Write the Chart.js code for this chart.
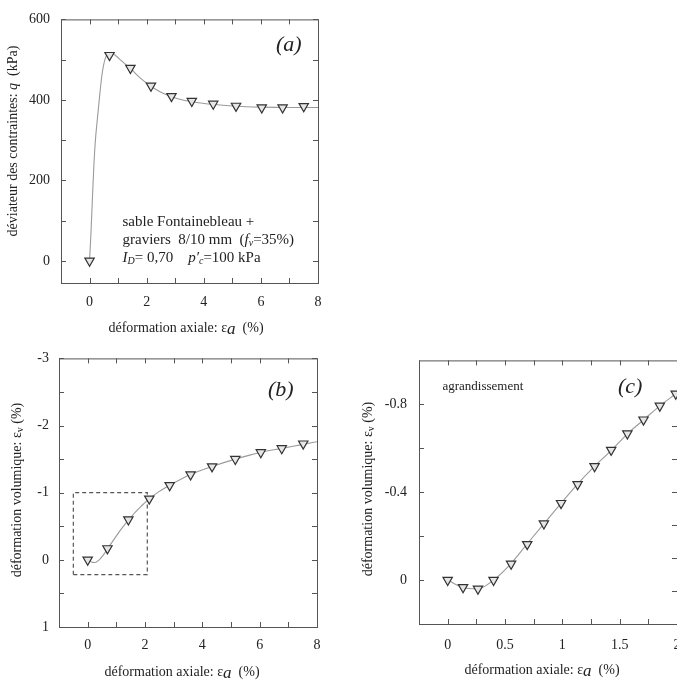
<!DOCTYPE html>
<html><head><meta charset="utf-8">
<script src="https://cdn.jsdelivr.net/npm/chart.js@4/dist/chart.umd.min.js"></script>
<style>
html,body{margin:0;padding:0;background:#fff;overflow:hidden;width:677px;height:688px;}
.box{position:absolute;}
</style></head><body>
<div class="box" style="left:0;top:0;"><canvas id="ca" width="340" height="340"></canvas></div>
<div class="box" style="left:0;top:340px;"><canvas id="cb" width="340" height="348"></canvas></div>
<div class="box" style="left:340px;top:340px;width:360px;"><canvas id="cc" width="360" height="348"></canvas></div>
<script>
// ---------- data: panel (a) deviator stress ----------
const qMarkX = [0, 0.70, 1.43, 2.15, 2.87, 3.58, 4.33, 5.13, 6.03, 6.76, 7.50];
const qMarkY = [0, 511, 479, 435, 409, 397, 390, 385, 381, 381, 384];
const qCurveX = [0, 0.05, 0.10, 0.15, 0.20, 0.27, 0.36, 0.44, 0.56, 0.73, 0.90, 1.10, 1.43, 1.80, 2.15, 2.50, 2.87, 3.30, 3.80, 4.30, 5.00, 6.00, 7.00, 8.00];
const qCurveY = [0, 70, 155, 235, 295, 350, 415, 465, 505, 517, 511, 498, 478, 453, 434, 419, 408, 399, 393, 389, 385, 382, 381, 381];

// ---------- data: panel (b) volumetric strain ----------
const vMarkX = [0, 0.69, 1.42, 2.15, 2.86, 3.59, 4.34, 5.15, 6.04, 6.77, 7.52];
const vMarkY = [0, -0.17, -0.60, -0.91, -1.11, -1.27, -1.39, -1.50, -1.60, -1.66, -1.73];
const vCurveX = [0, 0.13, 0.26, 0.40, 0.55, 0.69, 0.84, 0.99, 1.13, 1.28, 1.43, 1.57, 1.71, 1.85, 1.99, 2.15, 2.50, 2.86, 3.59, 4.34, 5.15, 6.04, 6.77, 7.52, 8.00];
const vCurveY = [0, 0.033, 0.040, 0.0, -0.074, -0.163, -0.257, -0.350, -0.436, -0.518, -0.592, -0.667, -0.730, -0.793, -0.848, -0.91, -1.02, -1.11, -1.27, -1.39, -1.50, -1.60, -1.66, -1.72, -1.76];
const zoomBoxX = [-0.5, 2.08, 2.08, -0.5, -0.5];
const zoomBoxY = [0.22, 0.22, -1.0, -1.0, 0.22];

// ---------- data: panel (c) enlargement ----------
const cMarkX = [0, 0.134, 0.264, 0.40, 0.553, 0.694, 0.839, 0.989, 1.133, 1.281, 1.426, 1.567, 1.708, 1.85, 1.989];
const cMarkY = [0, 0.033, 0.040, 0.0, -0.074, -0.163, -0.257, -0.350, -0.436, -0.518, -0.592, -0.667, -0.730, -0.793, -0.848];

// ---------- ticks ----------
const abXTicks = [-1, 0, 1, 2, 3, 4, 5, 6, 7, 8];
const abXLabels = [0, 2, 4, 6, 8];
const aYTicks = [0, 100, 200, 300, 400, 500, 600];
const aYLabels = [0, 200, 400, 600];
const bYTicks = [-3, -2.5, -2, -1.5, -1, -0.5, 0, 0.5, 1];
const bYLabels = [-3, -2, -1, 0, 1];
const cXTicks = [-0.25, 0, 0.25, 0.5, 0.75, 1, 1.25, 1.5, 1.75, 2];
const cXLabels = [0, 0.5, 1, 1.5, 2];
const cYTicks = [-0.8, -0.6, -0.4, -0.2, 0];
const cYRightTicks = [-0.7, -0.55, -0.4, -0.25, -0.1, 0.05];
const cYLabels = [-0.8, -0.4, 0];

// ---------- texts ----------
const xTitle = [{t:'déformation axiale: '}, {t:'ε'}, {t:'a', i:true, sz:17, dy:2}, {t:'  (%)'}];
const qTitle = [{t:'déviateur des contraintes: '}, {t:'q', i:true}, {t:'  (kPa)'}];
const vTitle = [{t:'déformation volumique: '}, {t:'ε'}, {t:'v', sz:10, dy:3}, {t:' (%)'}];
const noteA = [
  [{t:'sable Fontainebleau +'}],
  [{t:'graviers  8/10 mm  ('}, {t:'f', i:true}, {t:'v', i:true, sz:10, dy:3}, {t:'=35%)'}],
  [{t:'I', i:true}, {t:'D', i:true, sz:10, dy:3}, {t:'= 0,70    '}, {t:'p', i:true}, {t:'′', i:true}, {t:'c', i:true, sz:10, dy:3}, {t:'=100 kPa'}]
];

const FONT = '"Liberation Serif", "Times New Roman", serif';
const INK = '#222';

function fontOf(s, base){ return (s.i ? 'italic ' : '') + (s.sz || base) + 'px ' + FONT; }
function drawRich(ctx, segs, x, y, align, base){
  const w = segs.map(s => { ctx.font = fontOf(s, base); return ctx.measureText(s.t).width; });
  const total = w.reduce((a,b)=>a+b, 0);
  let cx = align === 'center' ? x - total/2 : (align === 'right' ? x - total : x);
  ctx.textAlign = 'left';
  ctx.textBaseline = 'middle';
  segs.forEach((s,k) => { ctx.font = fontOf(s, base); ctx.fillText(s.t, cx, y + (s.dy || 0)); cx += w[k]; });
}

const deco = {
  id: 'deco',
  afterDatasetsDraw(chart, args, o){
    const ctx = chart.ctx, a = chart.chartArea;
    const xs = chart.scales.x, ys = chart.scales.y;
    ctx.save();
    ctx.strokeStyle = '#555';
    ctx.lineWidth = 1;
    ctx.strokeRect(a.left + 0.5, a.top + 0.5, a.right - a.left, a.bottom - a.top);
    const L = 5;
    ctx.beginPath();
    o.xTicks.forEach(v => {
      const px = Math.round(xs.getPixelForValue(v)) + 0.5;
      ctx.moveTo(px, a.bottom); ctx.lineTo(px, a.bottom - L);
      ctx.moveTo(px, a.top); ctx.lineTo(px, a.top + L);
    });
    o.yTicks.forEach(v => {
      const py = Math.round(ys.getPixelForValue(v)) + 0.5;
      ctx.moveTo(a.left, py); ctx.lineTo(a.left + L, py);
    });
    (o.rTicks || o.yTicks).forEach(v => {
      const py = Math.round(ys.getPixelForValue(v)) + 0.5;
      ctx.moveTo(a.right, py); ctx.lineTo(a.right - L, py);
    });
    ctx.stroke();
    ctx.fillStyle = INK;
    drawRich(ctx, o.xTitle, o.xTitlePos[0], o.xTitlePos[1], 'center', 14);
    ctx.save();
    ctx.translate(o.yTitlePos[0], o.yTitlePos[1]);
    ctx.rotate(-Math.PI/2);
    drawRich(ctx, o.yTitle, 0, 0, 'center', 14);
    ctx.restore();
    (o.texts || []).forEach(t => drawRich(ctx, t.segs, t.x, t.y, 'left', t.size));
    ctx.restore();
  }
};

function curveDs(xs, ys){
  return { type:'line', data: xs.map((x,i)=>({x, y: ys[i]})), borderColor:'#9a9a9a', borderWidth:1.1,
    pointRadius:0, cubicInterpolationMode:'monotone', fill:false, order:2 };
}
function markDs(xs, ys){
  return { type:'line', data: xs.map((x,i)=>({x, y: ys[i]})), showLine:false, pointStyle:'triangle',
    rotation:180, pointRadius:5.4, pointBorderWidth:1.2, pointBorderColor:'#333', pointBackgroundColor:'#e6e6e6', order:1 };
}
function axis(min, max, labels, pad, fit, isX, reverse){
  return {
    type:'linear', min, max, reverse: !!reverse,
    grid:{display:false, drawTicks:false}, border:{display:false},
    ticks:{ padding: pad, autoSkip:false, maxRotation:0, color: INK, font:{family: FONT, size:14},
      callback: v => String(v) },
    afterBuildTicks: s => { s.ticks = labels.map(v => ({value: v})); },
    afterFit: s => { if (isX) s.height = fit; else s.width = fit; }
  };
}
function make(id, datasets, scales, padding, deco_opts){
  new Chart(document.getElementById(id), {
    type:'line',
    data:{ datasets },
    options:{
      responsive:false, animation:false, events:[],
      layout:{ padding },
      scales,
      plugins:{ legend:{display:false}, tooltip:{enabled:false}, deco: deco_opts }
    },
    plugins:[deco]
  });
}

// Panel (a)
make('ca', [markDs(qMarkX, qMarkY), curveDs(qCurveX, qCurveY)],
  { x: axis(-1, 8, abXLabels, 11, 57, true), y: axis(-55, 600, aYLabels, 11, 61, false) },
  { left:0, top:13, right:22, bottom:0 },
  { xTicks: abXTicks, yTicks: aYTicks, xTitle, xTitlePos:[186, 328], yTitle: qTitle, yTitlePos:[13.5, 141],
    texts: [
      {segs:[{t:'(a)', i:true}], x:276, y:45, size:22},
      {segs:noteA[0], x:122.5, y:222, size:15},
      {segs:noteA[1], x:122.5, y:240, size:15},
      {segs:noteA[2], x:122.5, y:258, size:15}
    ] });

// Panel (b)
const boxDs = { type:'line', data: zoomBoxX.map((x,i)=>({x, y: zoomBoxY[i]})), borderColor:'#555', borderWidth:1.2,
  borderDash:[4,3], pointRadius:0, tension:0, fill:false, order:3 };
make('cb', [markDs(vMarkX, vMarkY), curveDs(vCurveX, vCurveY), boxDs],
  { x: axis(-1, 8, abXLabels, 10, 61, true), y: axis(-3, 1, bYLabels, 10, 59, false, true) },
  { left:0, top:16, right:23, bottom:0 },
  { xTicks: abXTicks, yTicks: bYTicks, xTitle, xTitlePos:[182, 332], yTitle: vTitle, yTitlePos:[17, 150],
    texts: [ {segs:[{t:'(b)', i:true}], x:268, y:50, size:22} ] });

// Panel (c)
make('cc', [markDs(cMarkX, cMarkY), curveDs(vCurveX, vCurveY)],
  { x: axis(-0.25, 2, cXLabels, 13, 64, true), y: axis(-1, 0.2, cYLabels, 12, 79, false, true) },
  { left:0, top:16, right:23, bottom:0 },
  { xTicks: cXTicks, yTicks: cYTicks, rTicks: cYRightTicks, xTitle, xTitlePos:[202, 330], yTitle: vTitle, yTitlePos:[28, 149],
    texts: [
      {segs:[{t:'(c)', i:true}], x:278, y:47, size:22},
      {segs:[{t:'agrandissement'}], x:102.5, y:47, size:13}
    ] });
</script>
</body></html>
